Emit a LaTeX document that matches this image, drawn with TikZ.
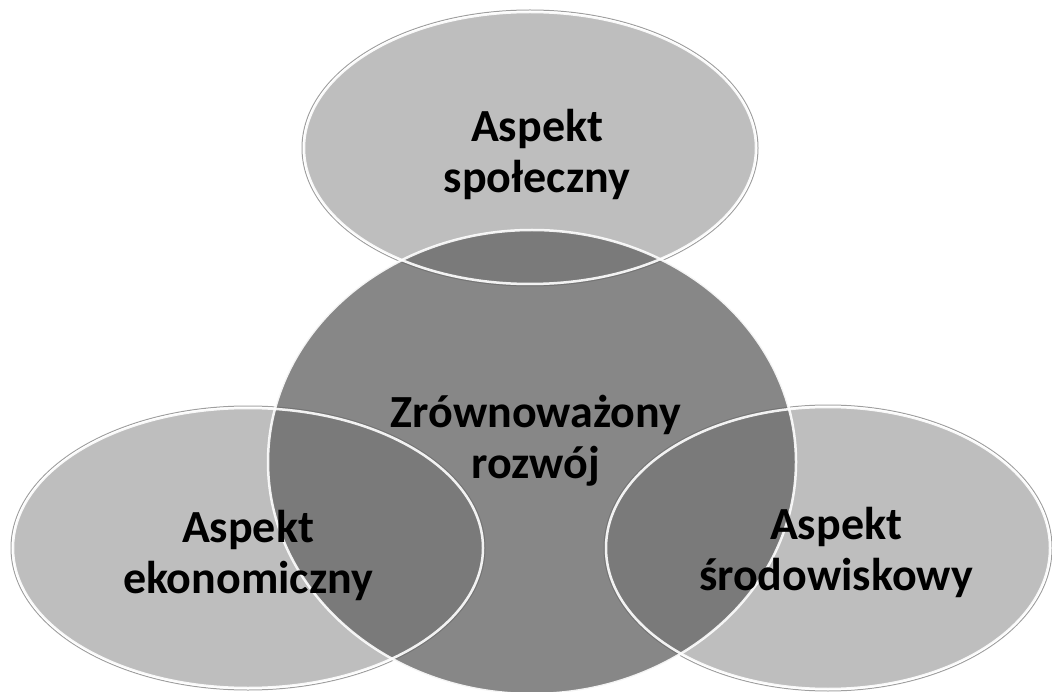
\documentclass[tikz,border=0pt]{standalone}
\usepackage{fontspec}
\setmainfont{Carlito}
\definecolor{lightfill}{HTML}{BEBEBE}
\definecolor{corefill}{HTML}{6A6A6A}
\begin{document}
\begin{tikzpicture}[x=1pt,y=-1pt,
  lbl/.style={align=center,font=\fontsize{46}{51}\selectfont\bfseries,text=black,inner sep=0pt},
  sidefill/.style={fill=lightfill},
  corefillst/.style={fill=corefill,fill opacity=0.8},
  rim/.style={draw=white,line width=2.5pt,draw opacity=0.9},
  shade/.style={draw=gray!75,line width=1pt}]
\useasboundingbox (0,0) rectangle (1052,692);
\fill[white] (0,0) rectangle (1052,692);
% outer soft edges
\draw[shade] (530,148) ellipse [x radius=228, y radius=138];
\draw[shade] (248,548) ellipse [x radius=237, y radius=142];
\draw[shade] (828,548) ellipse [x radius=224, y radius=143];
% light ellipses
\path[sidefill] (530,148) ellipse [x radius=226, y radius=136];
\path[sidefill] (248,548) ellipse [x radius=235, y radius=140];
\path[sidefill] (828,548) ellipse [x radius=222, y radius=141];
% central circle
\path[corefillst] (532,462) ellipse [x radius=264, y radius=232];
% rims
\draw[rim] (530,148) ellipse [x radius=226, y radius=136];
\draw[rim] (532,462) ellipse [x radius=264, y radius=232];
\draw[rim] (248,548) ellipse [x radius=235, y radius=140];
\draw[rim] (828,548) ellipse [x radius=222, y radius=141];
% labels
\node[lbl] (soc) at (537,154) {Aspekt\\społeczny};
\node[lbl] (sus) at (536,441) {Zrównoważony\\rozwój};
\node[lbl] (eko) at (248,555) {Aspekt\\ekonomiczny};
\node[lbl] (env) at (836,552) {Aspekt\\środowiskowy};
\end{tikzpicture}
\end{document}
